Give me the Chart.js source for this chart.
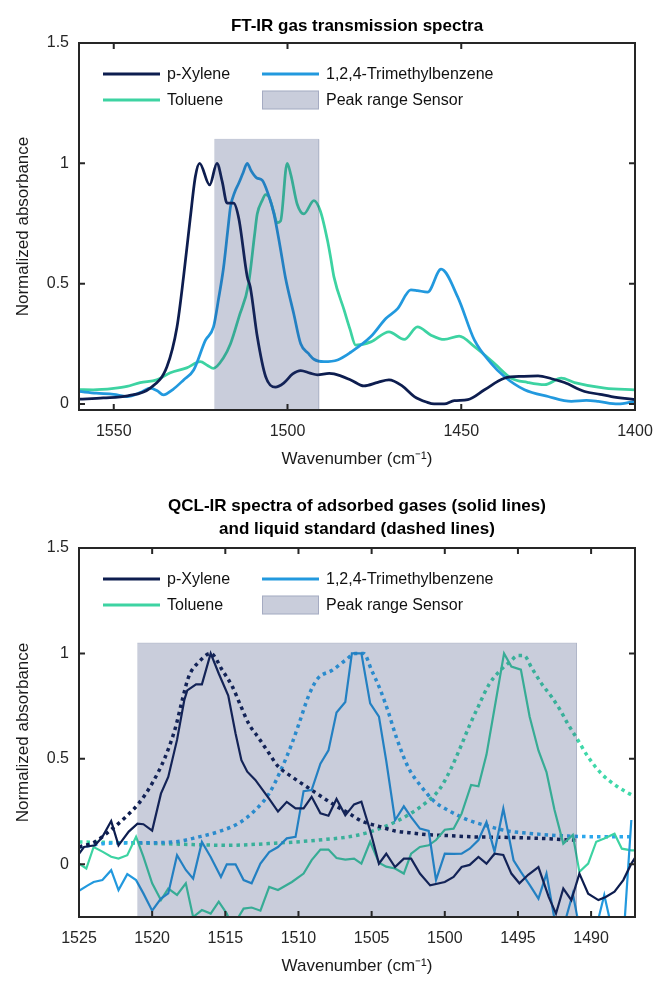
<!DOCTYPE html>
<html><head><meta charset="utf-8">
<script src="https://cdn.jsdelivr.net/npm/chart.js@4.4.1/dist/chart.umd.min.js"></script>
<style>
html,body{margin:0;padding:0;background:#fff;width:657px;height:983px;overflow:hidden}
.box{position:absolute;left:0;width:657px}
</style></head><body>
<div class="box" style="top:0;height:480px"><canvas id="c1"></canvas></div>
<div class="box" style="top:480px;height:503px"><canvas id="c2"></canvas></div>
<script>
// ---------- Top chart: FT-IR ----------
const ftTicksX = [1550, 1500, 1450, 1400];
const ftTicksY = [0, 0.5, 1, 1.5];
const ftXyleneWn = [1560,1553,1546,1539.5,1534.7,1531.8,1529.9,1528,1526.5,1525.3,1522.4,1520.3,1518.8,1517.4,1515.5,1514,1511.6,1510.7,1508.7,1506.3,1503.5,1501.1,1498.5,1496.2,1493.5,1491.4,1488,1486.6,1481.8,1478,1474,1470.8,1467,1463.5,1460,1457.8,1454.9,1452,1448.1,1443.3,1437.6,1432,1427.9,1424,1420.3,1414.5,1410,1406.8,1400];
const ftXyleneAbs = [0.02,0.025,0.034,0.066,0.155,0.32,0.53,0.77,0.946,1.0,0.91,1.0,0.925,0.835,0.835,0.77,0.53,0.485,0.28,0.114,0.07,0.087,0.125,0.139,0.128,0.121,0.127,0.125,0.1,0.075,0.09,0.1,0.075,0.031,0.008,0.0,0.0,0.014,0.018,0.059,0.107,0.115,0.117,0.105,0.089,0.052,0.04,0.031,0.018];
const ftTolueneWn = [1560,1555.9,1550,1546.2,1542.4,1537.6,1533.7,1529,1525.1,1523,1521.3,1518.5,1516.4,1514,1511.2,1509.5,1508.7,1507.3,1506.3,1505.3,1504,1503,1502,1500.1,1499,1497.2,1495.3,1492.4,1490.5,1488.5,1487.6,1486.6,1483.7,1482,1480.4,1476,1470.8,1466.4,1462.6,1458.7,1454.9,1450.6,1446.2,1440.5,1435.6,1431,1426,1421.2,1417.4,1408.7,1400];
const ftTolueneAbs = [0.06,0.059,0.065,0.073,0.089,0.1,0.13,0.15,0.176,0.16,0.148,0.19,0.25,0.36,0.5,0.7,0.79,0.845,0.87,0.86,0.8,0.753,0.76,1.0,0.95,0.83,0.79,0.845,0.8,0.68,0.61,0.526,0.39,0.31,0.245,0.258,0.3,0.268,0.32,0.286,0.268,0.282,0.238,0.169,0.107,0.09,0.08,0.107,0.089,0.066,0.059];
const ftTmbWn = [1560,1555,1550,1546.2,1542,1539.5,1537.5,1535.7,1533,1529.9,1527,1523.6,1521.3,1519.8,1518.4,1517.2,1516.4,1515.2,1514,1512.8,1511.6,1510.5,1508.9,1507.3,1505.5,1503.9,1502.2,1500.6,1498.2,1496.2,1494,1492.4,1489.5,1485.6,1481.8,1476,1471.7,1468.3,1464.5,1462.6,1459.7,1455.8,1451,1446.2,1441.4,1437.6,1431.8,1425,1418.3,1414,1410.6,1404.9,1400];
const ftTmbAbs = [0.052,0.045,0.04,0.031,0.05,0.066,0.055,0.038,0.06,0.1,0.141,0.265,0.32,0.44,0.567,0.72,0.82,0.88,0.918,0.96,1.0,0.97,0.94,0.93,0.87,0.79,0.66,0.526,0.375,0.25,0.21,0.186,0.176,0.183,0.215,0.28,0.355,0.396,0.474,0.471,0.465,0.56,0.444,0.265,0.169,0.114,0.059,0.031,0.011,0.015,0.011,0.0,0.011];
const ftPeakRange = [1521, 1491];
const ftPeakTop = 1.1;

// ---------- Bottom chart: QCL-IR ----------
const qclTicksX = [1525, 1520, 1515, 1510, 1505, 1500, 1495, 1490];
const qclTicksY = [0, 0.5, 1, 1.5];
const qclXyleneWn = [1525,1524.66,1523.9,1523.4,1522.8,1522.3,1521.6,1521,1520.6,1520,1519.4,1518.9,1518.3,1517.8,1517.6,1517,1516.6,1516,1515.45,1514.8,1514.3,1513.9,1513.5,1512.95,1512,1511.4,1510.8,1510.2,1509.65,1509.1,1508.5,1507.95,1507.4,1506.8,1506.2,1505.7,1505.1,1504.5,1504,1503.4,1502.8,1502.3,1501.7,1501,1500,1499.4,1498.85,1498.3,1497.7,1497.15,1496.6,1496,1495.45,1494.9,1494.3,1493.6,1492.9,1492.4,1491.9,1491.35,1490.8,1490.2,1489.5,1489,1488.4,1487.8,1487.25,1487];
const qclXyleneAbs = [0.05,0.082,0.09,0.13,0.205,0.09,0.155,0.193,0.19,0.16,0.335,0.414,0.59,0.78,0.825,0.853,0.853,1.0,0.905,0.8,0.62,0.494,0.439,0.4,0.31,0.25,0.296,0.265,0.265,0.32,0.242,0.23,0.31,0.232,0.284,0.297,0.16,0.003,0.05,-0.013,0.027,0.027,-0.044,-0.1,-0.084,-0.06,-0.013,-0.003,0.035,0.003,0.05,0.044,-0.044,-0.09,-0.05,-0.013,-0.155,-0.234,-0.115,-0.17,-0.044,-0.14,-0.17,-0.155,-0.13,-0.075,0.003,0.03];
const qclTmbWn = [1525,1524.4,1524,1523.4,1522.8,1522.3,1521.7,1521.1,1520.6,1520,1519.4,1518.9,1518.3,1517.7,1517.2,1516.6,1516,1515.3,1514.9,1514.3,1513.75,1513.2,1512.6,1512,1511.4,1510.8,1510.2,1509.65,1509.1,1508.5,1507.95,1507.4,1506.8,1506.35,1505.7,1505.1,1504.5,1504,1503.4,1502.8,1502.3,1501.7,1501.1,1500.6,1500,1499.4,1498.85,1498.3,1497.7,1497.15,1496.6,1496,1495.3,1494.8,1494.2,1493.6,1493.05,1492.4,1491.9,1491.25,1490.8,1490.2,1489.65,1489.1,1488.6,1488,1487.7,1487.25];
const qclTmbAbs = [-0.126,-0.1,-0.084,-0.075,-0.028,-0.122,-0.047,-0.075,-0.138,-0.22,-0.163,-0.138,0.043,-0.027,-0.068,0.106,0.035,-0.06,0.0,0.0,-0.075,-0.09,0.003,0.058,0.082,0.123,0.13,0.347,0.352,0.477,0.54,0.72,0.77,1.0,1.0,0.763,0.7,0.49,0.209,0.275,0.224,0.169,0.158,-0.075,0.05,0.049,0.05,0.074,0.115,0.2,0.06,0.264,0.019,-0.036,-0.098,-0.163,-0.044,-0.3,-0.3,-0.14,-0.3,-0.35,-0.3,-0.146,-0.3,-0.35,-0.26,0.21];
const qclTolueneWn = [1525,1524.5,1524,1523.4,1522.8,1522.3,1521.7,1521.1,1520.6,1520,1519.4,1518.9,1518.3,1517.7,1517.2,1516.6,1516,1515.45,1514.9,1514.5,1514.1,1513.75,1513.2,1512.6,1512,1511.4,1510.45,1509.65,1509.1,1508.5,1507.95,1507.4,1506.8,1506.2,1505.7,1505.1,1504.5,1504,1503.4,1502.8,1502.3,1501.7,1501.1,1500.6,1500,1499.4,1498.85,1498.2,1497.7,1497.15,1496.6,1495.95,1495.45,1494.8,1494.2,1493.6,1493.05,1492.5,1491.9,1491.25,1490.8,1490.2,1489.65,1489.1,1488.4,1487.9,1487.25,1487];
const qclTolueneAbs = [0.003,-0.02,0.082,0.06,0.036,0.027,0.043,0.13,0.036,-0.09,-0.17,-0.115,-0.145,-0.09,-0.25,-0.217,-0.234,-0.177,-0.234,-0.3,-0.25,-0.21,-0.205,-0.22,-0.107,-0.122,-0.084,-0.044,0.02,0.07,0.07,0.03,0.022,0.027,0.003,0.107,0.008,-0.011,-0.02,-0.044,0.05,0.082,0.09,0.115,0.164,0.169,0.24,0.376,0.37,0.52,0.74,1.0,0.938,0.923,0.7,0.54,0.437,0.257,0.098,0.139,-0.036,0.003,0.107,0.122,0.145,0.074,0.066,0.066];
const qclXyleneLiqWn = [1525,1523.9,1522.7,1521.8,1520.9,1520,1519.1,1518.4,1517.95,1517.5,1516.8,1516,1515.2,1514.5,1514,1513.4,1512.7,1512,1511.4,1510.45,1509.1,1507.7,1506.4,1505.7,1504.5,1503.4,1502.3,1501.1,1500,1498,1496,1494,1493.2,1492,1491];
const qclXyleneLiqAbs = [0.082,0.107,0.17,0.225,0.29,0.384,0.51,0.65,0.777,0.89,0.96,1.0,0.92,0.84,0.76,0.667,0.597,0.525,0.465,0.415,0.352,0.288,0.235,0.205,0.18,0.158,0.149,0.14,0.137,0.13,0.128,0.124,0.122,0.117,0.114];
const qclTmbLiqWn = [1525,1523,1520.7,1518.4,1516.8,1515.45,1514.1,1512.95,1512,1511.2,1510.45,1510,1509.3,1508.7,1507.7,1506.8,1506.1,1505.55,1505,1504.4,1503.85,1503.3,1502.5,1501.6,1500.7,1499.8,1498.4,1497,1495.7,1494.3,1492.9,1491.6,1489.75,1487];
const qclTmbLiqAbs = [0.082,0.1,0.102,0.107,0.13,0.155,0.194,0.257,0.336,0.447,0.572,0.66,0.8,0.88,0.92,0.967,1.0,1.0,0.92,0.826,0.72,0.6,0.46,0.368,0.297,0.257,0.21,0.18,0.158,0.147,0.139,0.134,0.131,0.131];
const qclTolueneLiqWn = [1525,1521.8,1518.4,1515,1511.6,1508.6,1505.9,1503.85,1502.5,1501.35,1500.4,1499.6,1498.9,1498.3,1497.7,1497,1496.2,1495.55,1495,1494.6,1494.05,1493.4,1492.7,1492.1,1491.6,1491,1490.2,1489.3,1488.2,1487];
const qclTolueneLiqAbs = [0.106,0.102,0.096,0.09,0.1,0.115,0.139,0.186,0.234,0.289,0.352,0.45,0.56,0.66,0.75,0.85,0.92,0.96,0.99,0.99,0.93,0.858,0.794,0.73,0.667,0.6,0.509,0.43,0.368,0.32];
const qclPeakRange = [1521, 1491];
const qclPeakTop = 1.05;

const seriesLabels = ['p-Xylene', '1,2,4-Trimethylbenzene', 'Toluene', 'Peak range Sensor'];

// ---------- styles ----------
const cXylene = '#0d1d4f';
const cTmb = '#2299de';
const cTmbLiq = '#2ca7ec';
const cToluene = '#3dd3a2';
const cTolueneLiq = '#3fd8a9';
const cPatch = 'rgba(40,55,110,0.25)';
const FONT = '"Liberation Sans", Arial, Helvetica, sans-serif';

Chart.defaults.font.family = FONT;
Chart.defaults.font.size = 16;
Chart.defaults.color = '#262626';

function pts(xs, ys) { return xs.map((x, i) => ({x: x, y: ys[i]})); }
function patchPts(range, top, bottom) {
  return [{x: range[0], y: bottom}, {x: range[0], y: top}, {x: range[1], y: top}, {x: range[1], y: bottom}];
}

const legendPlugin = {
  id: 'miniLegend',
  afterDatasetsDraw(chart) {
    const {ctx, chartArea: a} = chart;
    ctx.save();
    ctx.font = '16px ' + FONT;
    ctx.textBaseline = 'middle';
    ctx.textAlign = 'left';
    chart.data.datasets.forEach(ds => {
      if (!ds.legendSlot) return;
      const col = ds.legendSlot[0], row = ds.legendSlot[1];
      const x0 = a.left + 24 + col * 159;
      const yy = a.top + 31 + row * 26;
      if (ds.fill) {
        ctx.fillStyle = ds.backgroundColor;
        ctx.fillRect(x0, yy - 9.5, 57, 19);
        ctx.strokeStyle = 'rgba(40,55,110,0.22)';
        ctx.lineWidth = 1;
        ctx.strokeRect(x0 + 0.5, yy - 9, 56, 18);
      } else {
        ctx.strokeStyle = ds.borderColor;
        ctx.lineWidth = 3;
        ctx.setLineDash([]);
        ctx.beginPath(); ctx.moveTo(x0, yy); ctx.lineTo(x0 + 57, yy); ctx.stroke();
      }
      ctx.fillStyle = '#111';
      ctx.fillText(ds.label, x0 + 64, yy + 1);
    });
    ctx.restore();
  }
};

const framePlugin = {
  id: 'frame',
  afterDatasetsDraw(chart) {
    const {ctx, chartArea: a, scales} = chart;
    const x = scales.x, y = scales.y;
    ctx.save();
    ctx.strokeStyle = '#262626';
    ctx.lineWidth = 2;
    ctx.setLineDash([]);
    ctx.strokeRect(a.left, a.top, a.right - a.left, a.bottom - a.top);
    const L = 6;
    ctx.beginPath();
    x.ticks.forEach(t => {
      const p = x.getPixelForValue(t.value);
      ctx.moveTo(p, a.bottom); ctx.lineTo(p, a.bottom - L);
      ctx.moveTo(p, a.top); ctx.lineTo(p, a.top + L);
    });
    y.ticks.forEach(t => {
      const p = y.getPixelForValue(t.value);
      ctx.moveTo(a.left, p); ctx.lineTo(a.left + L, p);
      ctx.moveTo(a.right, p); ctx.lineTo(a.right - L, p);
    });
    ctx.stroke();
    ctx.restore();
  }
};

function solid(label, color, xs, ys, w, smooth, slot) {
  return {label: label, data: pts(xs, ys), borderColor: color, backgroundColor: color, borderWidth: w,
    pointRadius: 0, showLine: true, fill: false, tension: 0,
    cubicInterpolationMode: smooth ? 'monotone' : 'default', legendSlot: slot, order: 1};
}
function dotted(label, color, xs, ys) {
  return {label: label, data: pts(xs, ys), borderColor: color, backgroundColor: color, borderWidth: 3.5,
    borderDash: [3.5, 4], borderCapStyle: 'butt', pointRadius: 0, showLine: true, fill: false,
    cubicInterpolationMode: 'monotone', order: 1};
}
function patch(label, range, top, bottom) {
  return {label: label, data: patchPts(range, top, bottom), borderColor: 'rgba(40,55,110,0.12)', borderWidth: 1,
    backgroundColor: cPatch, fill: 'start', pointRadius: 0, showLine: true, tension: 0,
    legendSlot: [1, 1], order: -1};
}

function baseOptions(cfg) {
  return {
    responsive: true, maintainAspectRatio: false, animation: false, devicePixelRatio: 1,
    layout: {padding: {left: 0, right: 22, top: 0, bottom: 0}},
    plugins: {
      legend: {display: false}, tooltip: {enabled: false},
      title: {display: true, text: cfg.title, fullSize: false, color: '#000',
        font: {size: 17, weight: 'bold', lineHeight: cfg.titleLH}, padding: cfg.titlePad}
    },
    scales: {
      x: {type: 'linear', reverse: true, min: cfg.xMin, max: cfg.xMax,
        afterBuildTicks: s => { s.ticks = cfg.xTicks.map(v => ({value: v})); },
        afterFit: s => { s.height = cfg.xHeight; s.paddingLeft = 0; s.paddingRight = 0; },
        ticks: {padding: 12.4, maxRotation: 0, autoSkip: false, color: '#262626', callback: v => String(v)},
        grid: {display: false, drawTicks: false}, border: {display: false},
        title: {display: true, text: 'Wavenumber (cm\u207B\u00B9)', color: '#1a1a1a', font: {size: 17}, padding: {top: 0, bottom: cfg.xTitlePad}}
      },
      y: {type: 'linear', min: cfg.yMin, max: 1.5,
        afterBuildTicks: s => { s.ticks = cfg.yTicks.map(v => ({value: v})); },
        afterFit: s => { s.width = 79; s.paddingTop = 0; s.paddingBottom = 0; },
        ticks: {padding: 10, color: '#262626', callback: v => String(v)},
        grid: {display: false, drawTicks: false}, border: {display: false},
        title: {display: true, text: 'Normalized absorbance', color: '#1a1a1a', font: {size: 17}, padding: {top: 12.8, bottom: 0}}
      }
    }
  };
}

new Chart(document.getElementById('c1'), {
  type: 'scatter',
  data: {datasets: [
    solid(seriesLabels[0], cXylene, ftXyleneWn, ftXyleneAbs, 2.75, true, [0, 0]),
    solid(seriesLabels[1], cTmb, ftTmbWn, ftTmbAbs, 2.75, true, [1, 0]),
    solid(seriesLabels[2], cToluene, ftTolueneWn, ftTolueneAbs, 2.75, true, [0, 1]),
    patch(seriesLabels[3], ftPeakRange, ftPeakTop, -0.025)
  ]},
  options: baseOptions({title: 'FT-IR gas transmission spectra', titleLH: 1.2, titlePad: {top: 15.8, bottom: 6.8},
    xMin: 1400, xMax: 1560, xTicks: ftTicksX, yTicks: ftTicksY, yMin: -0.025, xHeight: 70, xTitlePad: 10.8}),
  plugins: [legendPlugin, framePlugin]
});

new Chart(document.getElementById('c2'), {
  type: 'scatter',
  data: {datasets: [
    solid(seriesLabels[0], cXylene, qclXyleneWn, qclXyleneAbs, 2.2, false, [0, 0]),
    solid(seriesLabels[1], cTmb, qclTmbWn, qclTmbAbs, 2.2, false, [1, 0]),
    solid(seriesLabels[2], cToluene, qclTolueneWn, qclTolueneAbs, 2.2, false, [0, 1]),
    dotted(seriesLabels[0] + ' (liquid)', cXylene, qclXyleneLiqWn, qclXyleneLiqAbs),
    dotted(seriesLabels[1] + ' (liquid)', cTmbLiq, qclTmbLiqWn, qclTmbLiqAbs),
    dotted(seriesLabels[2] + ' (liquid)', cTolueneLiq, qclTolueneLiqWn, qclTolueneLiqAbs),
    patch(seriesLabels[3], qclPeakRange, qclPeakTop, -0.25)
  ]},
  options: baseOptions({title: ['QCL-IR spectra of adsorbed gases (solid lines)', 'and liquid standard (dashed lines)'],
    titleLH: 1.4, titlePad: {top: 14.1, bottom: 6.3},
    xMin: 1487, xMax: 1525, xTicks: qclTicksX, yTicks: qclTicksY, yMin: -0.25, xHeight: 66, xTitlePad: 6.8}),
  plugins: [legendPlugin, framePlugin]
});
</script>
</body></html>
